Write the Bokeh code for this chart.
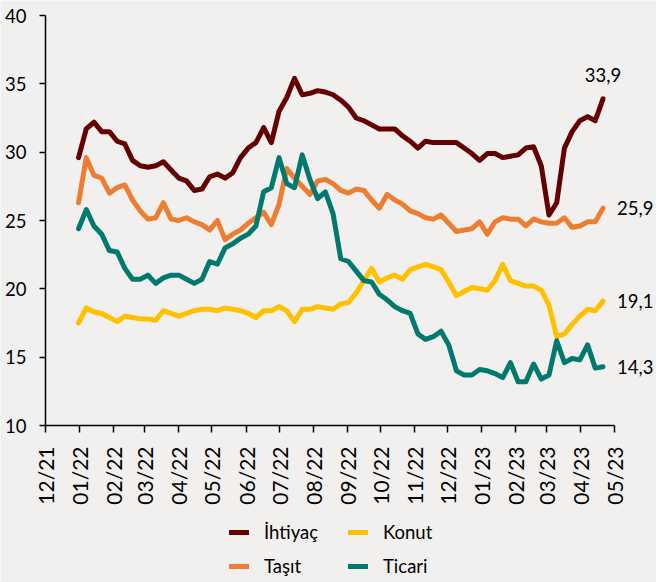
import math
import pandas as pd
from bokeh.plotting import figure
from bokeh.models import Range1d, FixedTicker, Legend, LegendItem, Label
from bokeh.embed import file_html
from bokeh.resources import INLINE

# ---- data (weekly, Fridays) ----
dates = pd.date_range("2021-12-31", periods=69, freq="7D")

ihtiyac = [29.6, 31.7, 32.2, 31.5, 31.5, 30.8, 30.6, 29.4, 29.0, 28.9,
           29.0, 29.3, 28.7, 28.1, 27.9, 27.2, 27.3, 28.2, 28.4, 28.1,
           28.5, 29.6, 30.3, 30.7, 31.8, 30.7, 33.0, 34.0, 35.4, 34.2,
           34.3, 34.5, 34.4, 34.2, 33.8, 33.3, 32.5, 32.3, 32.0, 31.7,
           31.7, 31.7, 31.2, 30.8, 30.3, 30.8, 30.7, 30.7, 30.7, 30.7,
           30.3, 29.9, 29.4, 29.9, 29.9, 29.6, 29.7, 29.8, 30.3, 30.4,
           29.0, 25.4, 26.3, 30.3, 31.5, 32.3, 32.6, 32.3, 33.9]

tasit = [26.3, 29.6, 28.3, 28.1, 27.0, 27.4, 27.6, 26.5, 25.7, 25.1,
         25.2, 26.3, 25.1, 25.0, 25.2, 24.9, 24.7, 24.3, 25.0, 23.6,
         24.0, 24.3, 24.8, 25.2, 25.6, 24.7, 26.2, 28.8, 28.1, 27.5,
         26.9, 27.9, 28.0, 27.7, 27.2, 27.0, 27.3, 27.2, 26.5, 25.9,
         26.9, 26.5, 26.2, 25.7, 25.5, 25.2, 25.1, 25.4, 24.8, 24.2,
         24.3, 24.4, 24.9, 24.0, 24.9, 25.2, 25.1, 25.1, 24.6, 25.1,
         24.9, 24.8, 24.8, 25.2, 24.5, 24.6, 24.9, 24.9, 25.9]

konut = [17.5, 18.6, 18.3, 18.2, 17.9, 17.6, 18.0, 17.9, 17.8, 17.8,
         17.7, 18.4, 18.2, 18.0, 18.2, 18.4, 18.5, 18.5, 18.4, 18.6,
         18.5, 18.4, 18.2, 17.9, 18.4, 18.4, 18.7, 18.4, 17.6, 18.5,
         18.5, 18.7, 18.6, 18.5, 18.9, 19.0, 19.7, 20.6, 21.5, 20.5,
         20.8, 21.0, 20.7, 21.4, 21.6, 21.8, 21.6, 21.4, 20.5, 19.5,
         19.8, 20.1, 20.0, 19.9, 20.6, 21.8, 20.6, 20.4, 20.2, 20.2,
         19.9, 18.8, 16.5, 16.7, 17.4, 18.0, 18.5, 18.4, 19.1]

ticari = [24.4, 25.8, 24.6, 24.0, 22.8, 22.7, 21.5, 20.7, 20.7, 21.0,
          20.4, 20.8, 21.0, 21.0, 20.7, 20.4, 20.7, 22.0, 21.8, 23.0,
          23.3, 23.7, 24.0, 24.6, 27.1, 27.4, 29.6, 27.7, 27.4, 29.8,
          28.0, 26.6, 27.1, 25.5, 22.2, 22.0, 21.3, 20.6, 20.5, 19.6,
          19.2, 18.7, 18.4, 18.2, 16.7, 16.3, 16.5, 16.9, 15.9, 14.0,
          13.7, 13.7, 14.1, 14.0, 13.8, 13.5, 14.6, 13.2, 13.2, 14.5,
          13.4, 13.7, 16.2, 14.6, 14.9, 14.8, 15.9, 14.2, 14.3]

series_names = ["İhtiyaç", "Taşıt", "Konut", "Ticari"]
series_colors = ["#650000", "#ED7D31", "#FFC000", "#007A6E"]

tick_months = pd.date_range("2021-12-01", "2023-05-01", freq="MS")
tick_labels = ["12/21", "01/22", "02/22", "03/22", "04/22", "05/22", "06/22",
               "07/22", "08/22", "09/22", "10/22", "11/22", "12/22", "01/23",
               "02/23", "03/23", "04/23", "05/23"]

y_ticks = [10, 15, 20, 25, 30, 35, 40]

# ---- helpers ----
origin = tick_months[0]
xs = [(d - origin).days for d in dates]
tick_x = [(t - origin).days for t in tick_months]

BG = "#F2F0EF"
FONT = "Lato"
FS = "18.5px"

W, H = 656, 582
AX_LEFT, AX_TOP, AX_RIGHT, AX_BOTTOM = 45, 15, 613.5, 425
# The frame covers the whole canvas so that no text is clipped; both axes are
# pinned (fixed_location) and bounded to the reference's plot area.
kx = (tick_x[-1] - tick_x[0]) / (AX_RIGHT - AX_LEFT)
ky = (y_ticks[-1] - y_ticks[0]) / (AX_BOTTOM - AX_TOP)
x_start = tick_x[0] - AX_LEFT * kx
x_end = tick_x[-1] + (W - AX_RIGHT) * kx
y_start = y_ticks[0] - (H - AX_BOTTOM) * ky
y_end = y_ticks[-1] + AX_TOP * ky

p = figure(width=W, height=H, output_backend="svg", toolbar_location=None,
           x_range=Range1d(x_start, x_end), y_range=Range1d(y_start, y_end),
           min_border_left=0, min_border_right=0, min_border_top=0,
           min_border_bottom=0,
           background_fill_color=BG, border_fill_color=BG,
           outline_line_color=None)
p.grid.visible = False

renderers = []
for vals, color in zip([ihtiyac, tasit, konut, ticari], series_colors):
    r = p.line(xs, vals, line_color=color, line_width=5,
               line_join="round", line_cap="round")
    renderers.append(r)

# axes
for ax in (p.xaxis[0], p.yaxis[0]):
    ax.axis_line_color = "black"
    ax.axis_line_width = 1.5
    ax.major_tick_line_color = "black"
    ax.major_tick_line_width = 1.5
    ax.major_tick_in = 0
    ax.minor_tick_line_color = None
    ax.major_label_text_font = FONT
    ax.major_label_text_color = "black"

p.yaxis.ticker = FixedTicker(ticks=y_ticks)
p.yaxis.bounds = (y_ticks[0], y_ticks[-1])
p.yaxis.fixed_location = tick_x[0]
p.yaxis.major_tick_out = 6
p.yaxis.major_label_standoff = 13
p.yaxis.major_label_text_font_size = FS

p.xaxis.ticker = FixedTicker(ticks=tick_x)
p.xaxis.bounds = (tick_x[0], tick_x[-1])
p.xaxis.fixed_location = y_ticks[0]
p.xaxis.major_label_overrides = {tx: lab for tx, lab in zip(tick_x, tick_labels)}
p.xaxis.major_tick_out = 7
p.xaxis.major_label_orientation = math.pi / 2
p.xaxis.major_label_standoff = 14
p.xaxis.major_label_text_font_size = "21px"

# end-value labels
def fmt(v):
    return f"{v:.1f}".replace(".", ",")

p.add_layout(Label(x=xs[-1], y=ihtiyac[-1], text=fmt(ihtiyac[-1]),
                   y_offset=17, text_align="center", text_baseline="bottom",
                   text_font=FONT, text_font_size=FS, text_color="black"))
for vals in (tasit, konut, ticari):
    p.add_layout(Label(x=xs[-1], y=vals[-1], text=fmt(vals[-1]),
                       x_offset=14, text_align="left", text_baseline="middle",
                       text_font=FONT, text_font_size=FS, text_color="black"))

# legend (column-major: col1 İhtiyaç, Taşıt; col2 Konut, Ticari)
items = [LegendItem(label=n, renderers=[r]) for n, r in zip(series_names, renderers)]
legend = Legend(items=items, location=(229, 5), orientation="vertical", nrows=2,
                glyph_width=20, glyph_height=20, label_height=20, label_width=72,
                label_standoff=15, spacing=12, padding=0, margin=0,
                border_line_color=None, background_fill_alpha=0,
                label_text_font=FONT, label_text_font_size=FS,
                label_text_color="black")
p.add_layout(legend, "center")

open("out.html", "w").write(file_html(p, INLINE))
